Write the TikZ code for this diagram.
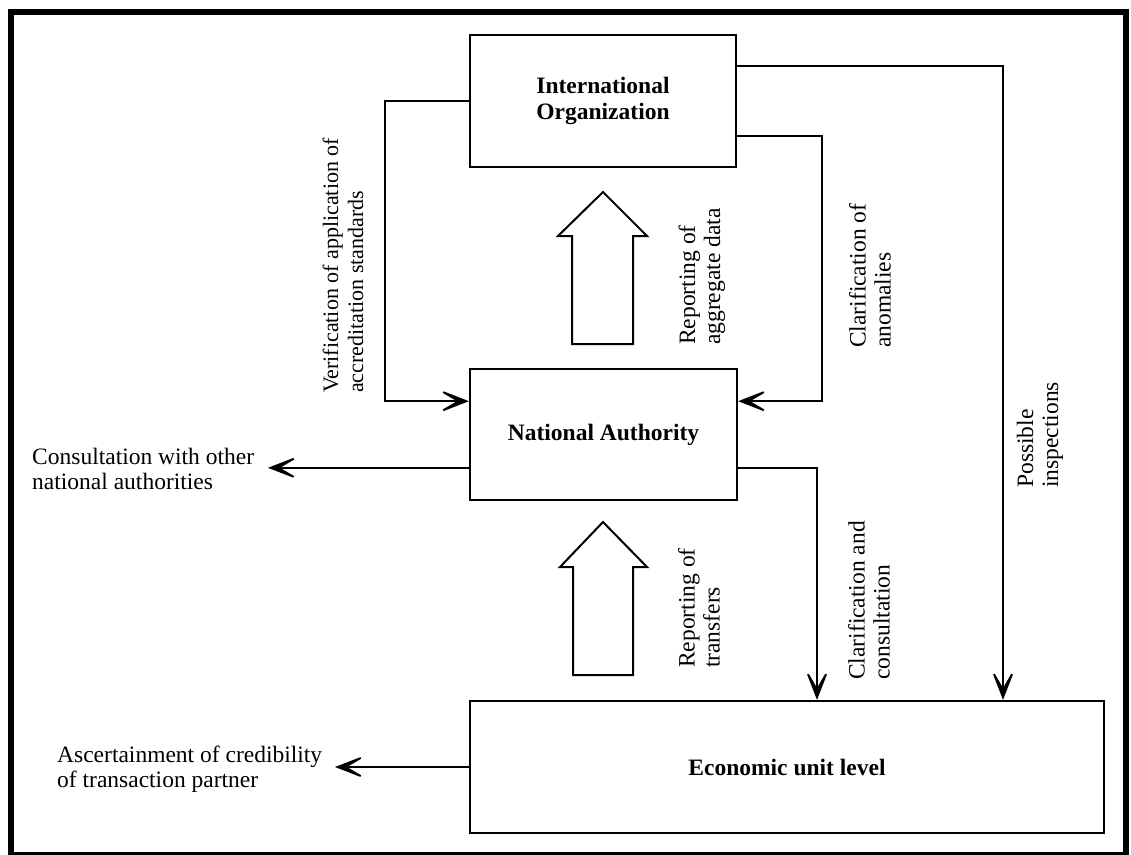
\documentclass[tikz,border=0pt]{standalone}
\usepackage{fontspec}
\setmainfont{Liberation Serif}
\usetikzlibrary{arrows.meta,calc}
\begin{document}
\begin{tikzpicture}[x=1pt,y=-1pt,
  box/.style={draw,line width=2.2pt,minimum width=#1,minimum height=132pt,inner sep=0pt,align=center,font=\fontsize{23.5}{26}\selectfont\bfseries},
  conn/.style={line width=1.8pt,-{Stealth[length=36pt,width=28pt,inset=24pt]}},
  lbl/.style={inner sep=0pt,align=left,font=\fontsize{23.5}{25}\selectfont},
  vlbl/.style={lbl,rotate=90,anchor=west},
  hollow/.style={draw,line width=2pt,line join=miter}]
\useasboundingbox (0,0) rectangle (1131,854);
\draw[line width=6pt] (11,12) rectangle (1126,855);

\node[box=266pt] (io) at (603,101) {International\\Organization};
\node[box=267pt,minimum height=131pt] (na) at (603.5,434.5) {National Authority};
\node[box=634pt] (eu) at (787,767) {Economic unit level};

\coordinate (ior1) at ($(io.north east)!0.24!(io.south east)$);
\coordinate (ior2) at ($(io.north east)!0.76!(io.south east)$);
\coordinate (nal1) at ($(na.north west)!0.25!(na.south west)$);
\coordinate (nal2) at ($(na.north west)!0.75!(na.south west)$);
\coordinate (nar1) at ($(na.north east)!0.25!(na.south east)$);
\coordinate (nar2) at ($(na.north east)!0.75!(na.south east)$);
\coordinate (vx) at (385,0);
\coordinate (ax) at (822,0);
\coordinate (cx) at (817,0);
\coordinate (px) at (1003,0);
\coordinate (conend) at (268,467);
\coordinate (ascend) at (335,767);

\draw[conn] (io.west) -- (io.west -| vx) |- (nal1);
\draw[conn] (ior2) -- (ior2 -| ax) |- (nar1);
\draw[conn] (ior1) -- (ior1 -| px) -- (px |- eu.north);
\draw[conn] (nar2) -- (nar2 -| cx) -- (cx |- eu.north);
\draw[conn] (nal2) -- (conend |- nal2);
\draw[conn] (eu.west) -- (ascend);

\draw[hollow] (572,344) -- (572,236) -- (558,236) -- (603,192) -- (647,236) -- (633,236) -- (633,344) -- cycle;
\draw[hollow] (573,675) -- (573,567) -- (560,567) -- (603,522) -- (647,567) -- (633,567) -- (633,675) -- cycle;

\node[lbl,anchor=west] (lcons) at (32,469) {Consultation with other\\national authorities};
\node[lbl,anchor=west] (lasc) at (57,769) {Ascertainment of credibility\\of transaction partner};
\node[vlbl,font=\fontsize{22}{25}\selectfont] (lver) at (343,393) {Verification of application of\\accreditation standards};
\node[vlbl] (lagg) at (702,345) {Reporting of\\aggregate data};
\node[vlbl] (lano) at (870,348) {Clarification of\\anomalies};
\node[vlbl] (ltra) at (699,668) {Reporting of\\transfers};
\node[vlbl] (lclc) at (869,680) {Clarification and\\consultation};
\node[vlbl] (lpos) at (1040,488) {Possible\\inspections};
\end{tikzpicture}
\end{document}
